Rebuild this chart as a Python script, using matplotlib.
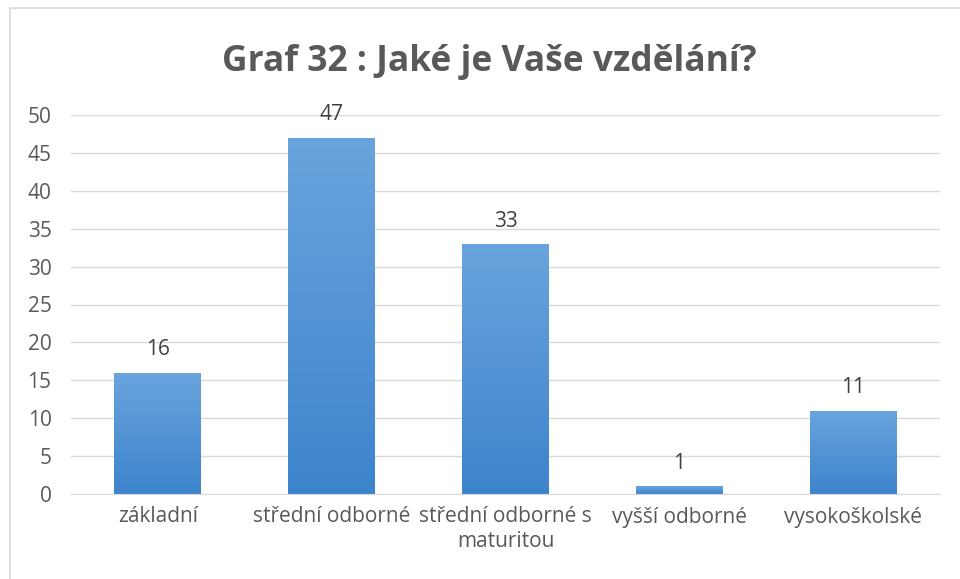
import numpy as np
import matplotlib.pyplot as plt
from matplotlib.patches import Rectangle

# data
kategorie = ['základní', 'střední odborné', 'střední odborné s\nmaturitou', 'vyšší odborné', 'vysokoškolské']
pocty = [16, 47, 33, 1, 11]
titulek = 'Graf 32 : Jaké je Vaše vzdělání?'

plt.rcParams['font.family'] = ['Open Sans', 'DejaVu Sans']
seda = '#595959'

fig = plt.figure(figsize=(9.6, 5.79), dpi=100)
# ramecek grafu
fig.patches.append(Rectangle((10/960, -0.01), 1.0, 1 - 8/579 + 0.01, transform=fig.transFigure,
                             fill=False, edgecolor='#d9d9d9', linewidth=1.2))
ax = fig.add_axes([71/960, 1 - 494/579, (940 - 71)/960, (494 - 115)/579])

x = np.arange(len(kategorie))
bars = ax.bar(x, pocty, width=0.5, color='#4a8fd4', zorder=2)

# prechod barvy na sloupcich
grad = np.linspace(0, 1, 256).reshape(-1, 1)
cm = plt.matplotlib.colors.LinearSegmentedColormap.from_list('b', ['#3d84cd', '#6aa4dd'])
for b in bars:
    b.set_facecolor('none')
    b.set_edgecolor('none')
    im = ax.imshow(grad, extent=[b.get_x(), b.get_x() + b.get_width(), 0, b.get_height()],
                   origin='lower', aspect='auto', cmap=cm, zorder=2)
    im.set_clip_path(b)

for xi, v in zip(x, pocty):
    ax.text(xi, v + 3.0, str(v), ha='center', va='center', fontsize=15, color='#404040')

ax.set_xlim(-0.5, len(kategorie) - 0.5)
ax.set_ylim(0, 50)
ax.set_yticks(range(0, 51, 5))
ax.set_xticks(x)
ax.set_xticklabels(kategorie, fontsize=15, color=seda, linespacing=1.2)
ax.tick_params(axis='y', labelsize=15, labelcolor=seda, length=0, pad=14)
ax.tick_params(axis='x', length=0, pad=9)
ax.grid(axis='y', color='#d9d9d9', linewidth=1, zorder=0)
ax.set_axisbelow(True)
for s in ['top', 'right', 'left']:
    ax.spines[s].set_visible(False)
ax.spines['bottom'].set_color('#d9d9d9')

fig.text(489/960, 1 - 62/579, titulek, ha='center', va='center', fontsize=25.5, fontweight='bold', color=seda)

fig.savefig('out.png', dpi=100)
